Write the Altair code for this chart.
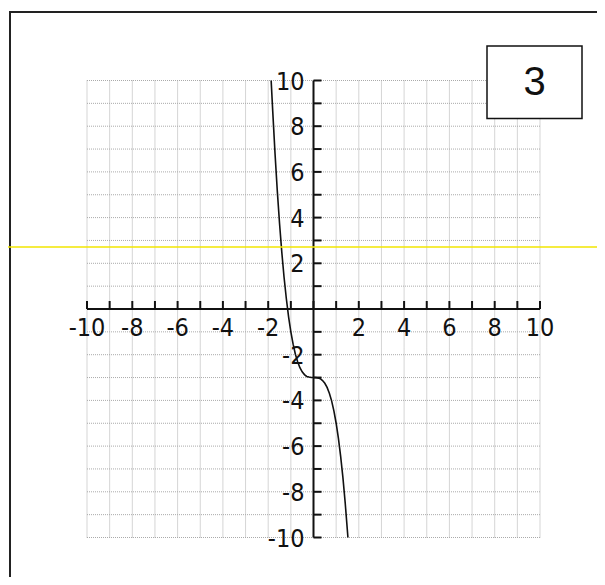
import altair as alt
import pandas as pd

# ---- data ----
curve_x = [-1.87, -1.8, -1.7, -1.6, -1.5, -1.4, -1.3, -1.2, -1.1, -1.0, -0.9, -0.8,
           -0.7, -0.6, -0.5, -0.4, -0.3, -0.2, -0.1, 0.0, 0.1, 0.2, 0.3, 0.4, 0.5,
           0.6, 0.7, 0.8, 0.9, 1.0, 1.1, 1.2, 1.3, 1.4, 1.52]
curve_y = [10.0, 8.66, 6.83, 5.19, 3.75, 2.49, 1.39, 0.46, -0.34, -1.0, -1.54, -1.98,
           -2.31, -2.57, -2.75, -2.87, -2.95, -2.98, -3.0, -3.0, -3.0, -3.02, -3.05, -3.13, -3.25,
           -3.43, -3.69, -4.02, -4.46, -5.0, -5.66, -6.46, -7.39, -8.49, -10.0]
grid_values = list(range(-10, 11))
tick_values = list(range(-10, 11))
x_label_values = [-10, -8, -6, -4, -2, 2, 4, 6, 8, 10]
y_label_values = [10, 8, 6, 4, 2, -2, -4, -6, -8, -10]
axis_range = [-10, 10]
panel_label = "3"

FONT = "Liberation Sans, Arial, Helvetica, sans-serif"
NARROW = "Liberation Sans Narrow, Arial Narrow, DejaVu Sans Condensed, sans-serif"

xs = alt.Scale(domain=axis_range, nice=False, zero=False)
ys = alt.Scale(domain=axis_range, nice=False, zero=False)

grid_df = pd.DataFrame({"g": grid_values})
grid_v = alt.Chart(grid_df).mark_rule(color="#aaaaaa", strokeWidth=1, strokeDash=[1, 1]).encode(
    x=alt.X("g:Q", scale=xs, axis=None),
    y=alt.YDatum(axis_range[0], scale=ys, axis=None),
    y2=alt.Y2Datum(axis_range[1]),
)
grid_h = alt.Chart(grid_df).mark_rule(color="#aaaaaa", strokeWidth=1, strokeDash=[1, 1]).encode(
    y=alt.Y("g:Q", scale=ys, axis=None),
    x=alt.XDatum(axis_range[0], scale=xs, axis=None),
    x2=alt.X2Datum(axis_range[1]),
)

curve_df = pd.DataFrame({"x": curve_x, "y": curve_y})
curve = alt.Chart(curve_df).mark_line(color="#111111", strokeWidth=1.6).encode(
    x=alt.X("x:Q", scale=xs, axis=None),
    y=alt.Y("y:Q", scale=ys, axis=None),
)

ticks_df = pd.DataFrame({"t": tick_values})
x_ticks = alt.Chart(ticks_df).mark_rule(color="#111111", strokeWidth=2, y2Offset=-8).encode(
    x=alt.X("t:Q", scale=xs, axis=None),
    y=alt.YDatum(0, scale=ys, axis=None),
    y2=alt.Y2Datum(0),
)
y_ticks = alt.Chart(ticks_df).mark_rule(color="#111111", strokeWidth=2, x2Offset=8).encode(
    y=alt.Y("t:Q", scale=ys, axis=None),
    x=alt.XDatum(0, scale=xs, axis=None),
    x2=alt.X2Datum(0),
)

range_df = pd.DataFrame({"a": [axis_range[0]], "b": [axis_range[1]]})
x_line = alt.Chart(range_df).mark_rule(color="#111111", strokeWidth=2).encode(
    x=alt.X("a:Q", scale=xs, axis=None), x2="b:Q",
    y=alt.YDatum(0, scale=ys, axis=None),
)
y_line = alt.Chart(range_df).mark_rule(color="#111111", strokeWidth=2).encode(
    y=alt.Y("a:Q", scale=ys, axis=None), y2="b:Q",
    x=alt.XDatum(0, scale=xs, axis=None),
)

xl_df = pd.DataFrame({"v": x_label_values, "s": [str(v) for v in x_label_values]})
x_labels = alt.Chart(xl_df).mark_text(font=NARROW, fontSize=25, baseline="top", align="center",
                                       dy=7, color="#111111").encode(
    x=alt.X("v:Q", scale=xs, axis=None),
    y=alt.YDatum(0, scale=ys, axis=None),
    text="s:N",
)
yl_df = pd.DataFrame({"v": y_label_values, "s": [str(v) for v in y_label_values]})
y_labels = alt.Chart(yl_df).mark_text(font=NARROW, fontSize=25, baseline="middle", align="right",
                                       dx=-9, dy=1, color="#111111").encode(
    y=alt.Y("v:Q", scale=ys, axis=None),
    x=alt.XDatum(0, scale=xs, axis=None),
    text="s:N",
)

one = pd.DataFrame({"k": [0]})
frame_left = alt.Chart(one).mark_rule(color="#222222", strokeWidth=2).encode(
    x=alt.value(-77), y=alt.value(-68.5), y2=alt.value(560))
frame_top = alt.Chart(one).mark_rule(color="#222222", strokeWidth=2).encode(
    x=alt.value(-78), x2=alt.value(560), y=alt.value(-68.5))
box = alt.Chart(one).mark_rect(fill="white", stroke="#111111", strokeWidth=1.5).encode(
    x=alt.value(400), x2=alt.value(495), y=alt.value(-34.5), y2=alt.value(38))
box_text = alt.Chart(one).mark_text(font=FONT, fontSize=40, baseline="middle", align="center",
                                     color="#111111").encode(
    x=alt.value(447.5), y=alt.value(2.6), text=alt.value(panel_label))
yellow = alt.Chart(one).mark_rule(color="#f2e600", strokeWidth=1.5).encode(
    x=alt.value(-90), x2=alt.value(560), y=alt.value(166.5))

chart = alt.layer(
    grid_v, grid_h, curve, x_line, y_line, x_ticks, y_ticks, x_labels, y_labels,
    frame_left, frame_top, box, box_text, yellow,
).properties(
    width=453, height=457,
    padding={"left": 79, "top": 72.5, "right": 57, "bottom": 39},
    autosize=alt.AutoSizeParams(type="none"),
    background="white",
).configure_view(stroke=None)

chart.save("out.html", embed_options={"renderer": "svg", "actions": False})
